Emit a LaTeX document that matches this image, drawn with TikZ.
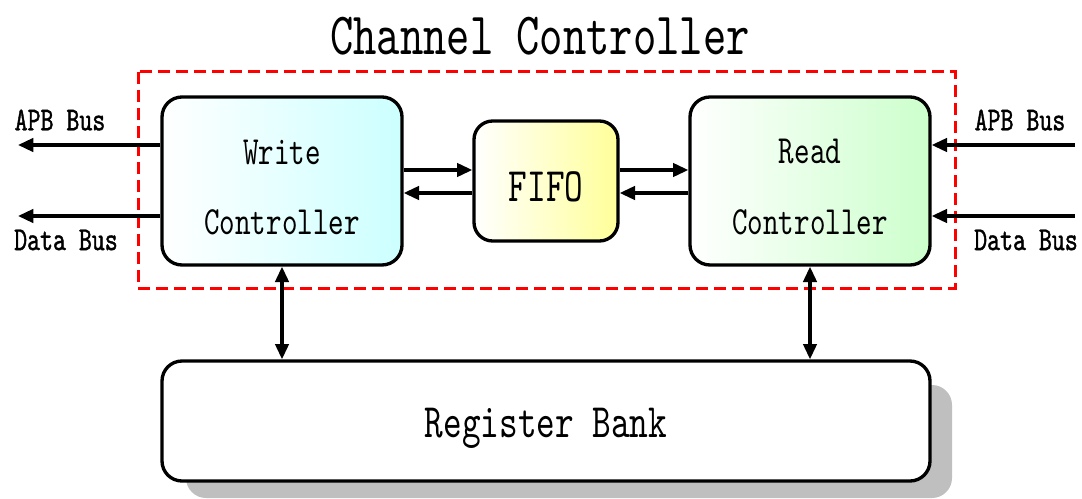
\documentclass[tikz,border=0pt]{standalone}
\usepackage{fontspec}
\newfontfamily\mf[FakeStretch=0.74]{lmmono10-regular.otf}
\newfontfamily\mfb[FakeStretch=0.74,FakeBold=1.2]{lmmono10-regular.otf}
\usetikzlibrary{arrows.meta,calc}
\begin{document}
\begin{tikzpicture}[x=0.75pt,y=-0.75pt,
  box/.style={draw=black,line width=2.5pt,rounded corners=15pt,inner sep=0pt},
  arr/.style={line width=2.5pt,-{Triangle[length=11.5pt,width=10pt]}},
  darr/.style={line width=2.5pt,{Triangle[length=11.5pt,width=10pt]}-{Triangle[length=11.5pt,width=10pt]}},
  lbl/.style={font=\mfb\fontsize{25}{30}\selectfont,inner sep=0pt},
  btxt/.style={font=\mf\fontsize{30}{36}\selectfont,inner sep=0pt}]
\useasboundingbox (0,0) rectangle (1082,499);
% title
\node[font=\mf\fontsize{45}{54}\selectfont,inner sep=0pt] (title) at (540,36) {Channel Controller};
% dashed frame
\draw[red,line width=2.25pt,dash pattern=on 9pt off 4.5pt] (138,72) rectangle (955,288);
% shadow
\fill[gray!50,rounded corners=15pt] (186,385) rectangle (952,498);
% boxes
\node[box,minimum width=180pt,minimum height=126pt,left color=white,right color=cyan!20] (wc) at (282,181) {};
\node[box,minimum width=108pt,minimum height=90pt,rounded corners=14pt,left color=white,right color=yellow!40] (ff) at (546,181) {};
\node[box,minimum width=180pt,minimum height=126pt,left color=white,right color=green!20] (rc) at (810,181) {};
\node[box,minimum width=576pt,minimum height=90pt,fill=white] (rb) at (546,421) {};
% texts
\node[btxt] (wt1) at (282,152) {Write};
\node[btxt] (wt2) at (282,222) {Controller};
\node[btxt] (rt1) at (810,152) {Read};
\node[btxt] (rt2) at (810,222) {Controller};
\node[font=\mf\fontsize{36}{42}\selectfont,inner sep=0pt] (fft) at (546,187) {FIFO};
\node[font=\mf\fontsize{36}{42}\selectfont,inner sep=0pt] (rbt) at (546,428) {Register Bank};
% side labels
\node[lbl] (l1) at (60,120) {APB Bus};
\node[lbl] (l2) at (66,240) {Data Bus};
\node[lbl] (l3) at (1020,120) {APB Bus};
\node[lbl] (l4) at (1026,240) {Data Bus};
% free ends
\coordinate (apbL) at (18,145);
\coordinate (datL) at (18,216);
\coordinate (apbR) at (1075,145);
\coordinate (datR) at (1075,216);
\draw[arr] (wc.west |- apbL) -- (apbL);
\draw[arr] (wc.west |- datL) -- (datL);
\draw[arr] (apbR) -- (rc.east |- apbR);
\draw[arr] (datR) -- (rc.east |- datR);
% fifo arrows
\draw[arr] ($(wc.east)+(0,-11)$) -- ($(ff.west)+(0,-11)$);
\draw[arr] ($(ff.west)+(0,12)$) -- ($(wc.east)+(0,12)$);
\draw[arr] ($(ff.east)+(0,-11)$) -- ($(rc.west)+(0,-11)$);
\draw[arr] ($(rc.west)+(0,12)$) -- ($(ff.east)+(0,12)$);
% vertical
\draw[darr] (wc.south) -- (wc.south |- rb.north);
\draw[darr] (rc.south) -- (rc.south |- rb.north);
\end{tikzpicture}
\end{document}
